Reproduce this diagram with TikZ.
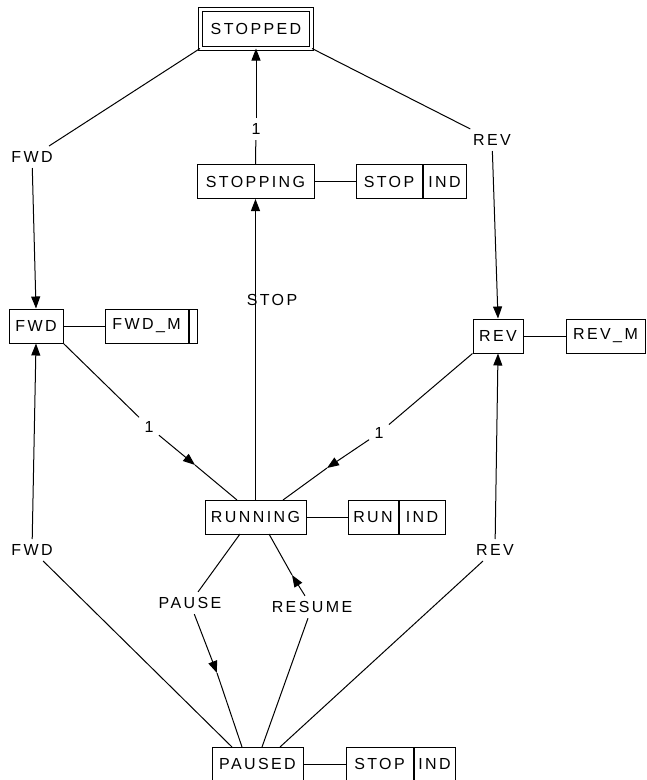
\documentclass[tikz,border=0pt]{standalone}
\usepackage{fontspec}
\setmainfont{Liberation Sans}[LetterSpace=15]
\usetikzlibrary{arrows.meta}
\begin{document}
\begin{tikzpicture}[x=1pt,y=-1pt,line width=1pt,
    font=\fontsize{16}{18}\selectfont,
    state/.style={draw,rectangle,inner sep=0pt,minimum height=34pt},
    act/.style={draw,rectangle,inner sep=0pt,minimum height=34pt},
    cond/.style={inner sep=5pt},
    trans/.style={-{Triangle[length=12pt,width=9pt]}}]
\useasboundingbox (0,0) rectangle (646,780);
% states
\node[state,double,double distance=3pt,minimum width=111pt,minimum height=39pt] (stopped) at (256,28.5) {STOPPED};
\node[state,minimum width=117pt] (stopping) at (255.5,181.5) {STOPPING};
\node[state,minimum width=54pt] (fwd) at (36,326) {FWD};
\node[state,minimum width=50pt] (rev) at (498,336) {REV};
\node[state,minimum width=101pt] (running) at (255.5,517) {RUNNING};
\node[state,minimum width=91pt] (paused) at (257.5,764) {PAUSED};
% actions
\node[act,minimum width=66pt] (stopout1) at (389,181.5) {STOP};
\node[act,minimum width=43pt,anchor=west] (ind1) at (stopout1.east) {IND};
\node[act,minimum width=83pt] (fwdm) at (146.5,326) {FWD\_M};
\node[act,minimum width=8pt,anchor=west] (fwdmx) at (fwdm.east) {};
\node[act,minimum width=79pt] (revm) at (605.5,336) {REV\_M};
\node[act,minimum width=50pt] (runout) at (373,517) {RUN};
\node[act,minimum width=46pt,anchor=west] (ind2) at (runout.east) {IND};
\node[act,minimum width=67pt] (stopout2) at (379.5,764) {STOP};
\node[act,minimum width=41pt,anchor=west] (ind3) at (stopout2.east) {IND};
\draw (stopping) -- (stopout1);
\draw (fwd) -- (fwdm);
\draw (rev) -- (revm);
\draw (running) -- (runout);
\draw (paused) -- (stopout2);
% conditions
\node[cond] (c1) at (256,129) {1};
\node[cond] (cfwd1) at (32,157) {FWD};
\node[cond] (crev1) at (492,140) {REV};
\node (cstop) at (272,300) {STOP};
\node[cond] (c4) at (149,427) {1};
\node[cond] (c5) at (379,433) {1};
\node[cond] (cpause) at (190,603) {PAUSE};
\node[cond] (cresume) at (312,607) {RESUME};
\node[cond] (cfwd2) at (32,550) {FWD};
\node[cond] (crev2) at (495,550) {REV};
% helper points
\coordinate (a4) at (195,465);
\coordinate (a5) at (327,468);
\coordinate (apause) at (217,673);
\coordinate (aresume) at (292,575);
\coordinate (r1) at (237,500);
\coordinate (r2) at (283,500);
\coordinate (r3) at (240,534);
\coordinate (r4) at (269,534);
\coordinate (p1) at (232,747);
\coordinate (p2) at (242,747);
\coordinate (p3) at (262,747);
\coordinate (p4) at (280,747);
% transitions
\draw (stopping.north) -- (c1);
\draw[trans] (c1) -- (stopped.south);
\draw (stopped.south west) -- (cfwd1);
\draw[trans] (cfwd1) -- (fwd.north);
\draw (stopped.south east) -- (crev1);
\draw[trans] (crev1) -- (rev.north);
\draw[trans] (running.north) -- (stopping.south);
\draw (fwd.south east) -- (c4);
\draw[trans] (c4) -- (a4);
\draw (a4) -- (r1);
\draw (rev.south west) -- (c5);
\draw[trans] (c5) -- (a5);
\draw (a5) -- (r2);
\draw (r3) -- (cpause);
\draw[trans] (cpause) -- (apause);
\draw (apause) -- (p2);
\draw (p3) -- (cresume);
\draw[trans] (cresume) -- (aresume);
\draw (aresume) -- (r4);
\draw (p1) -- (cfwd2);
\draw[trans] (cfwd2) -- (fwd.south);
\draw (p4) -- (crev2);
\draw[trans] (crev2) -- (rev.south);
\end{tikzpicture}
\end{document}
